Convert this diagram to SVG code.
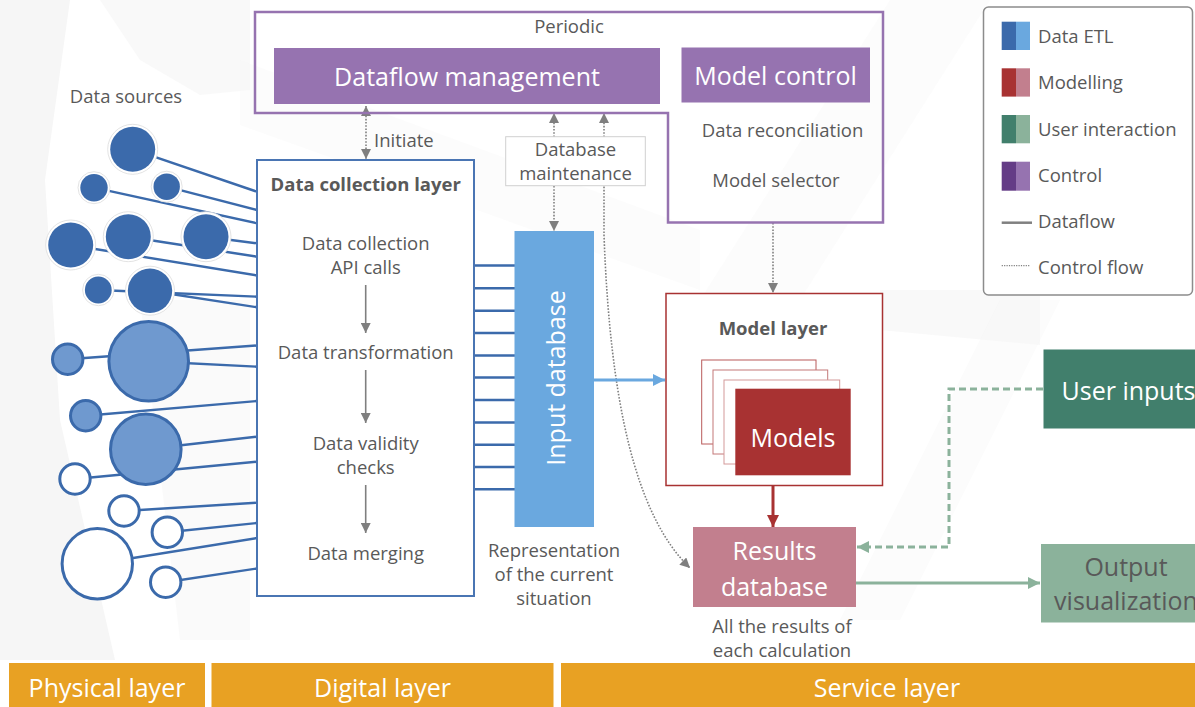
<svg xmlns="http://www.w3.org/2000/svg" width="1195" height="707" viewBox="0 0 1195 707">
  <style>
    text { font-family: "Open Sans", "Noto Sans", sans-serif; fill: #595959; }
    .t19 { font-size: 18.5px; }
    .t25 { font-size: 25px; }
    .mid { text-anchor: middle; }
    .bold { font-weight: bold; }
    .white { fill: #ffffff; }
    .src-line { stroke: #3b6aab; stroke-width: 2.4; fill: none; }
    .dark { fill: #3b6aab; }
    .halo { fill: #ffffff; stroke: #dcdcdc; stroke-width: 0.8; }
    .light { fill: #6f99cf; stroke: #3b6aab; stroke-width: 3; }
    .hollow { fill: #ffffff; stroke: #3b6aab; stroke-width: 3; }
    .ctrl { stroke: #7f7f7f; stroke-width: 1.6; stroke-dasharray: 1.6 1.6; fill: none; }
    .step { stroke: #7f7f7f; stroke-width: 1.6; fill: none; }
    .bar { fill: #e8a123; }
  </style>
  <defs>
    <marker id="ah-grey" viewBox="0 0 10 10" refX="10" refY="5" markerWidth="10" markerHeight="10" markerUnits="userSpaceOnUse" orient="auto-start-reverse">
      <path d="M0,0 L10,5 L0,10 z" fill="#7f7f7f"/>
    </marker>
    <marker id="ah-blue" viewBox="0 0 12 12" refX="12" refY="6" markerWidth="12" markerHeight="12" markerUnits="userSpaceOnUse" orient="auto">
      <path d="M0,0 L12,6 L0,12 z" fill="#6aa8df"/>
    </marker>
    <marker id="ah-red" viewBox="0 0 12 12" refX="12" refY="6" markerWidth="12" markerHeight="12" markerUnits="userSpaceOnUse" orient="auto">
      <path d="M0,0 L12,6 L0,12 z" fill="#a83232"/>
    </marker>
    <marker id="ah-green" viewBox="0 0 12 12" refX="12" refY="6" markerWidth="12" markerHeight="12" markerUnits="userSpaceOnUse" orient="auto">
      <path d="M0,0 L12,6 L0,12 z" fill="#8bb29b"/>
    </marker>
  </defs>

  <rect width="1195" height="707" fill="#ffffff"/>

  <!-- faint backdrop shapes -->
  <g id="backdrop" fill="#f6f6f6">
    <path d="M0,0 L70,0 L45,180 L60,420 L115,660 L0,660 Z"/>
    <path d="M100,0 L250,0 L250,90 L200,95 L140,60 Z" opacity="0.7"/>
    <path d="M240,60 L700,230 L700,290 L240,125 Z" opacity="0.35"/>
    <path d="M890,0 L990,0 L800,300 L700,300 Z" opacity="0.35"/>
    <path d="M880,290 L1040,290 L1040,345 L880,330 Z" opacity="0.7"/>
    <path d="M1000,300 L1060,300 L900,620 L840,620 Z" opacity="0.35"/>
    <path d="M140,300 L250,300 L250,640 L180,640 Z" opacity="0.5"/>
  </g>

  <!-- connectors -->
  <g id="connectors">
    <!-- data sources to collection layer -->
    <g id="source-links">
      <line class="src-line" x1="132.7" y1="149.3" x2="257" y2="191.7"/>
      <line class="src-line" x1="166.7" y1="186.7" x2="257" y2="210"/>
      <line class="src-line" x1="94" y1="187.7" x2="257" y2="223.3"/>
      <line class="src-line" x1="206" y1="236.7" x2="257" y2="243.3"/>
      <line class="src-line" x1="128.3" y1="236.7" x2="257" y2="256.7"/>
      <line class="src-line" x1="70.7" y1="245" x2="257" y2="275.5"/>
      <line class="src-line" x1="98.3" y1="290" x2="257" y2="296.7"/>
      <line class="src-line" x1="150" y1="290.7" x2="257" y2="307.3"/>
      <line class="src-line" x1="67.7" y1="359.3" x2="257" y2="345.5"/>
      <line class="src-line" x1="148.7" y1="361.3" x2="257" y2="366.7"/>
      <line class="src-line" x1="85.7" y1="415.7" x2="257" y2="401"/>
      <line class="src-line" x1="145.8" y1="449.2" x2="257" y2="436.7"/>
      <line class="src-line" x1="75" y1="479" x2="257" y2="461.7"/>
      <line class="src-line" x1="124" y1="511" x2="257" y2="502.7"/>
      <line class="src-line" x1="167.3" y1="532.3" x2="257" y2="523"/>
      <line class="src-line" x1="97.3" y1="563.7" x2="257" y2="538"/>
      <line class="src-line" x1="165.7" y1="582.3" x2="257" y2="568.5"/>
    </g>
    <!-- collection layer to input database -->
    <g id="collection-links" class="src-line">
      <line x1="474" y1="265.5" x2="515" y2="265.5"/>
      <line x1="474" y1="288.3" x2="515" y2="288.3"/>
      <line x1="474" y1="310.8" x2="515" y2="310.8"/>
      <line x1="474" y1="333" x2="515" y2="333"/>
      <line x1="474" y1="355.5" x2="515" y2="355.5"/>
      <line x1="474" y1="377.5" x2="515" y2="377.5"/>
      <line x1="474" y1="400" x2="515" y2="400"/>
      <line x1="474" y1="422.5" x2="515" y2="422.5"/>
      <line x1="474" y1="444.8" x2="515" y2="444.8"/>
      <line x1="474" y1="467" x2="515" y2="467"/>
      <line x1="474" y1="489.3" x2="515" y2="489.3"/>
    </g>
    <!-- control flows -->
    <line class="ctrl" x1="366" y1="106" x2="366" y2="159" marker-start="url(#ah-grey)" marker-end="url(#ah-grey)"/>
    <line class="ctrl" x1="554" y1="113" x2="554" y2="137" marker-start="url(#ah-grey)"/>
    <line class="ctrl" x1="554" y1="186" x2="554" y2="231" marker-end="url(#ah-grey)"/>
    <path class="ctrl" d="M604,113 V235 C610,400 635,515 690,568" marker-start="url(#ah-grey)" marker-end="url(#ah-grey)"/>
    <line class="ctrl" x1="773" y1="223" x2="773" y2="293" marker-end="url(#ah-grey)"/>
    <!-- dataflows -->
    <line x1="594" y1="380" x2="665" y2="380" stroke="#6aa8df" stroke-width="3" marker-end="url(#ah-blue)"/>
    <line x1="773" y1="486" x2="773" y2="527" stroke="#a83232" stroke-width="3" marker-end="url(#ah-red)"/>
    <line x1="856" y1="583" x2="1040" y2="583" stroke="#8bb29b" stroke-width="3" marker-end="url(#ah-green)"/>
    <polyline points="1043,389 949,389 949,547 857,547" fill="none" stroke="#8bb29b" stroke-width="3" stroke-dasharray="7 4" marker-end="url(#ah-green)"/>
  </g>

  <!-- physical data sources -->
  <g id="data-sources">
    <text class="t19 mid" x="126" y="103">Data sources</text>
    <circle class="halo" cx="132.7" cy="149.3" r="25"/>
    <circle class="dark" cx="132.7" cy="149.3" r="22.5"/>
    <circle class="halo" cx="94" cy="187.7" r="16"/>
    <circle class="dark" cx="94" cy="187.7" r="13.7"/>
    <circle class="halo" cx="166.7" cy="186.7" r="15.5"/>
    <circle class="dark" cx="166.7" cy="186.7" r="13.2"/>
    <circle class="halo" cx="70.7" cy="245" r="25"/>
    <circle class="dark" cx="70.7" cy="245" r="22.5"/>
    <circle class="halo" cx="128.3" cy="236.7" r="25"/>
    <circle class="dark" cx="128.3" cy="236.7" r="22.5"/>
    <circle class="halo" cx="206" cy="236.7" r="25"/>
    <circle class="dark" cx="206" cy="236.7" r="22.5"/>
    <circle class="halo" cx="98.3" cy="290" r="15.7"/>
    <circle class="dark" cx="98.3" cy="290" r="13.4"/>
    <circle class="halo" cx="150" cy="290.7" r="24.5"/>
    <circle class="dark" cx="150" cy="290.7" r="22.2"/>

    <circle class="light" cx="67.7" cy="359.3" r="15.2"/>
    <circle class="light" cx="148.7" cy="361.3" r="39.8"/>
    <circle class="light" cx="85.7" cy="415.7" r="15.2"/>
    <circle class="light" cx="145.8" cy="449.2" r="35.3"/>
    <circle class="hollow" cx="75" cy="479" r="15.2"/>
    <circle class="hollow" cx="124" cy="511" r="15.2"/>
    <circle class="hollow" cx="167.3" cy="532.3" r="15.2"/>
    <circle class="hollow" cx="97.3" cy="563.7" r="35.2"/>
    <circle class="hollow" cx="165.7" cy="582.3" r="15.2"/>
  </g>

  <!-- control frame -->
  <g id="control-frame">
    <path d="M255,12 H883 V222.5 H668 V113 H255 Z" fill="none" stroke="#9673b0" stroke-width="2.5"/>
    <text class="t19 mid" x="569" y="33">Periodic</text>
  </g>

  <g id="dataflow-management">
    <rect x="274" y="48" width="386" height="56" fill="#9673b0"/>
    <text class="t25 mid white" x="467" y="86">Dataflow management</text>
  </g>

  <g id="model-control">
    <rect x="681.5" y="47.5" width="188.5" height="55" fill="#9673b0"/>
    <text class="t25 mid white" x="775.5" y="85">Model control</text>
    <text class="t19 mid" x="782.5" y="137">Data reconciliation</text>
    <text class="t19 mid" x="776" y="186.5">Model selector</text>
  </g>

  <g id="initiate-label">
    <text class="t19" x="374" y="146.5">Initiate</text>
  </g>

  <g id="database-maintenance">
    <rect x="505.7" y="136.7" width="139.6" height="49" fill="#ffffff" stroke="#d0d0d0" stroke-width="1"/>
    <text class="t19 mid" x="575.5" y="156">Database</text>
    <text class="t19 mid" x="575.5" y="180">maintenance</text>
  </g>

  <!-- digital layer: collection -->
  <g id="data-collection-layer">
    <rect x="257" y="160" width="217" height="436" fill="#ffffff" stroke="#4a75b3" stroke-width="2"/>
    <text class="mid bold" x="365.7" y="190.5" style="font-size:18.5px">Data collection layer</text>
    <text class="t19 mid" x="365.7" y="250">Data collection</text>
    <text class="t19 mid" x="365.7" y="274">API calls</text>
    <line class="step" x1="365.7" y1="285" x2="365.7" y2="333" marker-end="url(#ah-grey)"/>
    <text class="t19 mid" x="365.7" y="359">Data transformation</text>
    <line class="step" x1="365.7" y1="370" x2="365.7" y2="423" marker-end="url(#ah-grey)"/>
    <text class="t19 mid" x="365.7" y="450">Data validity</text>
    <text class="t19 mid" x="365.7" y="474">checks</text>
    <line class="step" x1="365.7" y1="485" x2="365.7" y2="533" marker-end="url(#ah-grey)"/>
    <text class="t19 mid" x="365.7" y="559.5">Data merging</text>
  </g>

  <g id="input-database">
    <rect x="514.5" y="231" width="79.5" height="296" fill="#6aa8df"/>
    <text class="t25 mid white" transform="translate(565,378) rotate(-90)">Input database</text>
    <text class="t19 mid" x="554" y="556.5">Representation</text>
    <text class="t19 mid" x="554" y="581">of the current</text>
    <text class="t19 mid" x="554" y="605">situation</text>
  </g>

  <!-- service layer -->
  <g id="model-layer">
    <rect x="666" y="293.5" width="216.5" height="192" fill="#ffffff" stroke="#a83232" stroke-width="1.5"/>
    <text class="mid bold" x="773" y="334.5" style="font-size:18.5px">Model layer</text>
    <rect x="701.7" y="360" width="114.3" height="84" fill="#ffffff" stroke="#b95a5a" stroke-width="1"/>
    <rect x="713" y="370" width="114.7" height="84" fill="#ffffff" stroke="#c47878" stroke-width="1"/>
    <rect x="724" y="380" width="115.7" height="84" fill="#ffffff" stroke="#d49a9a" stroke-width="1"/>
    <rect x="735.3" y="388.7" width="115.4" height="86.6" fill="#a83232"/>
    <text class="t25 mid white" x="793" y="446.5">Models</text>
  </g>

  <g id="results-database">
    <rect x="693" y="527" width="163" height="80" fill="#c27f8e"/>
    <text class="t25 mid white" x="774.5" y="559.5">Results</text>
    <text class="t25 mid white" x="774.5" y="595.5">database</text>
    <text class="t19 mid" x="782" y="632.5">All the results of</text>
    <text class="t19 mid" x="782" y="656.5">each calculation</text>
  </g>

  <g id="user-inputs">
    <rect x="1043.5" y="349.5" width="160" height="79" fill="#417f6c"/>
    <text class="t25 white" x="1061.5" y="399.5">User inputs</text>
  </g>

  <g id="output-visualization">
    <rect x="1041" y="544" width="160" height="78.5" fill="#8bb29b"/>
    <text class="t25 mid" x="1126" y="575.5">Output</text>
    <text class="t25 mid" x="1126" y="609.5">visualization</text>
  </g>

  <!-- legend -->
  <g id="legend">
    <rect x="983.5" y="7" width="209" height="288" rx="5" fill="#ffffff" stroke="#8c8c8c" stroke-width="1.5"/>
    <rect x="1001.7" y="21.7" width="14.3" height="28.3" fill="#3b6aab"/>
    <rect x="1016" y="21.7" width="14" height="28.3" fill="#6aa8df"/>
    <text class="t19" x="1038" y="42.5">Data ETL</text>
    <rect x="1001.7" y="68.3" width="14.3" height="28.3" fill="#a83232"/>
    <rect x="1016" y="68.3" width="14" height="28.3" fill="#c27f8e"/>
    <text class="t19" x="1038" y="89">Modelling</text>
    <rect x="1001.7" y="115" width="14.3" height="28.3" fill="#417f6c"/>
    <rect x="1016" y="115" width="14" height="28.3" fill="#8bb29b"/>
    <text class="t19" x="1038" y="135.5">User interaction</text>
    <rect x="1001.7" y="161.7" width="14.3" height="29" fill="#643c86"/>
    <rect x="1016" y="161.7" width="14" height="29" fill="#9673b0"/>
    <text class="t19" x="1038" y="181.5">Control</text>
    <line x1="1001.7" y1="222.7" x2="1032" y2="222.7" stroke="#808080" stroke-width="2.5"/>
    <text class="t19" x="1038" y="228">Dataflow</text>
    <line x1="1001.7" y1="265.7" x2="1030" y2="265.7" stroke="#808080" stroke-width="1.2" stroke-dasharray="1.2 1.2"/>
    <text class="t19" x="1038" y="274">Control flow</text>
  </g>

  <!-- layer bands -->
  <g id="layer-bands">
    <rect class="bar" x="9" y="663" width="196" height="44"/>
    <text class="t25 mid white" x="107" y="696.5">Physical layer</text>
    <rect class="bar" x="211.5" y="663" width="342" height="44"/>
    <text class="t25 mid white" x="382.5" y="696.5">Digital layer</text>
    <rect class="bar" x="561" y="663" width="634" height="44"/>
    <text class="t25 mid white" x="887" y="696.5">Service layer</text>
  </g>
</svg>
